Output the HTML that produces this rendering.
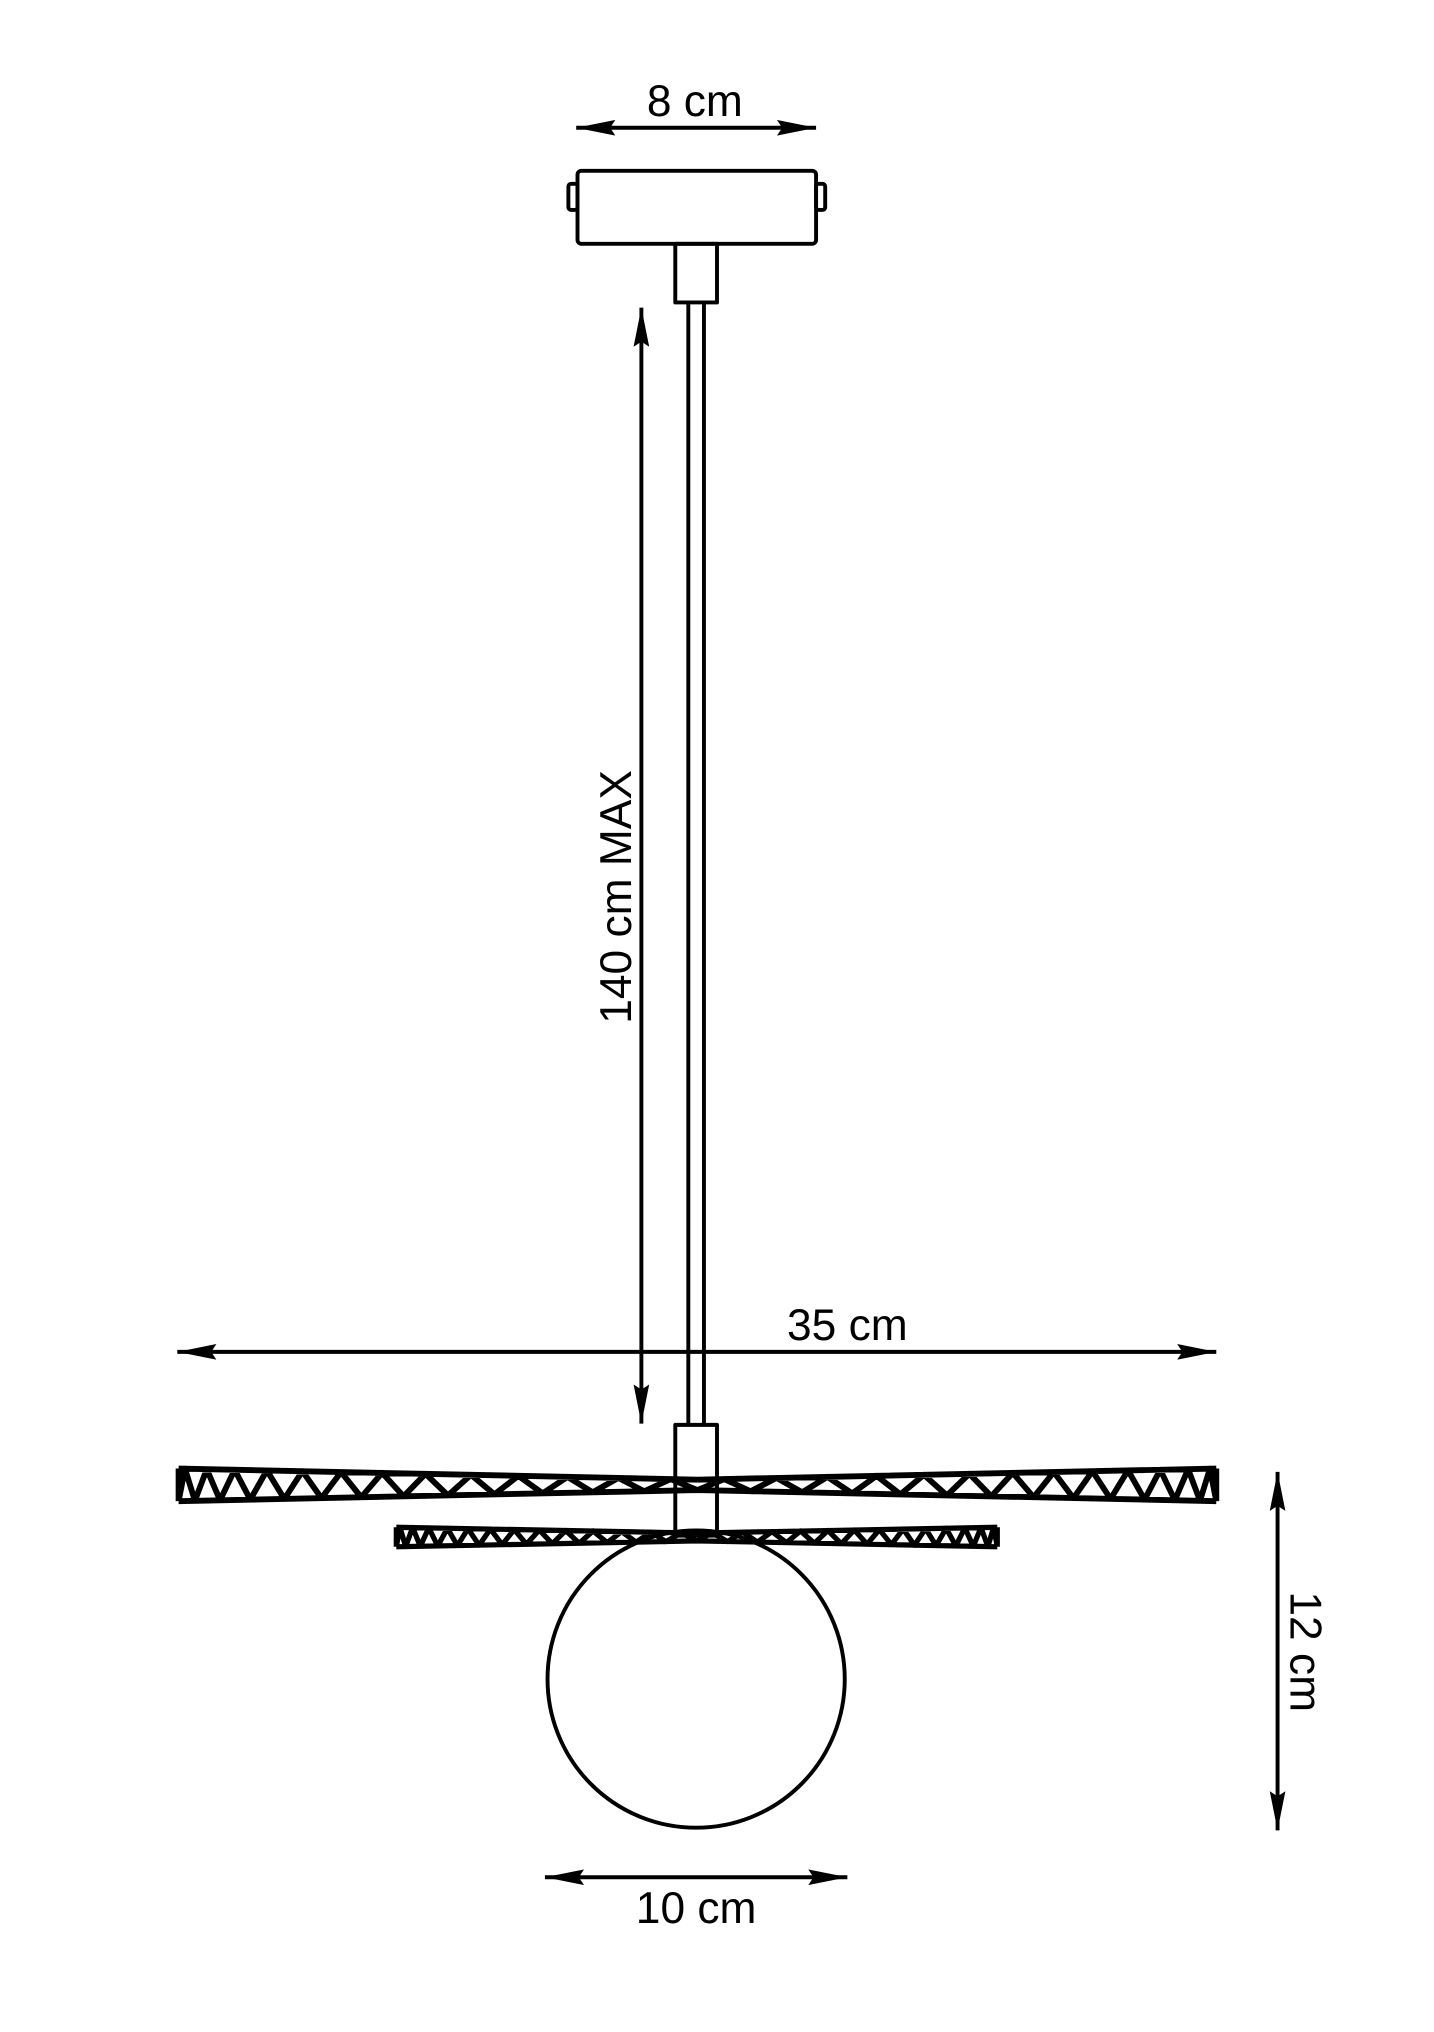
<!DOCTYPE html>
<html><head><meta charset="utf-8"><style>html,body{margin:0;padding:0;background:#fff}svg{display:block}</style></head>
<body>
<svg id="s" xmlns="http://www.w3.org/2000/svg" width="1434" height="2032" viewBox="0 0 1100 1558.7">
<defs>
<marker id="a" viewBox="0 0 30 12" refX="30" refY="6" markerWidth="30" markerHeight="12" markerUnits="userSpaceOnUse" orient="auto-start-reverse"><path d="M0,0 L30,6 L0,12 L4,6 Z" fill="#000"/></marker>
</defs>
<g stroke="#000" stroke-width="3" fill="none" stroke-linejoin="round">
<rect x="443" y="131" width="183" height="56" rx="3"/>
<rect x="436" y="141" width="7" height="20" rx="2"/>
<rect x="626" y="141" width="7" height="20" rx="2"/>
<rect x="518" y="187" width="32" height="45"/>
<line x1="528" y1="232" x2="528" y2="1093"/>
<line x1="540" y1="232" x2="540" y2="1093"/>
<rect x="518" y="1093" width="32" height="85"/>
<circle cx="534" cy="1288" r="114"/>
</g>
<g id="disks" stroke="#000" stroke-width="4" fill="none" stroke-linejoin="round"></g>
<g stroke="#000" stroke-width="3" fill="none">
<line x1="442" y1="98" x2="626" y2="98" marker-start="url(#a)" marker-end="url(#a)"/>
<line x1="492" y1="236" x2="492" y2="1092" marker-start="url(#a)" marker-end="url(#a)"/>
<line x1="136" y1="1037" x2="933" y2="1037" marker-start="url(#a)" marker-end="url(#a)"/>
<line x1="418" y1="1440" x2="650" y2="1440" marker-start="url(#a)" marker-end="url(#a)"/>
<line x1="980" y1="1129" x2="980" y2="1404" marker-start="url(#a)" marker-end="url(#a)"/>
</g>
<g font-family="'Liberation Sans', sans-serif" font-size="34" fill="#000" text-anchor="middle">
<text x="533" y="89">8 cm</text>
<text x="650" y="1028">35 cm</text>
<text x="534" y="1475">10 cm</text>
<text transform="translate(484,688) rotate(-90)">140 cm MAX</text>
<text transform="translate(990,1267) rotate(90)">12 cm</text>
</g>
<script>
(function(){
var g=document.getElementById('disks');var ns='http://www.w3.org/2000/svg';
function disk(x0,x1,yc,hEnd,hMid,n,sw){
 var cx=(x0+x1)/2, d='';
 [[x0,cx],[x1,cx]].forEach(function(p){
  var xa=p[0],xb=p[1];
  function top(x){var t=(x-xa)/(xb-xa);return yc-hEnd/2+ t*(hEnd-hMid)/2;}
  function bot(x){var t=(x-xa)/(xb-xa);return yc+hEnd/2- t*(hEnd-hMid)/2;}
  d+='M'+xa+','+top(xa)+' L'+xb+','+top(xb)+' M'+xa+','+bot(xa)+' L'+xb+','+bot(xb)+' M'+xa+','+top(xa)+' L'+xa+','+bot(xa);
  var pts=[];for(var i=0;i<=n;i++){var t=Math.pow(i/n,1.35);var x=xa+(xb-xa)*t;pts.push([x,i%2?top(x):bot(x)]);}
  d+=' M'+pts.map(function(q){return q[0].toFixed(1)+','+q[1].toFixed(1)}).join(' L');
 });
 var pa=document.createElementNS(ns,'path');pa.setAttribute('d',d);pa.setAttribute('stroke-width',sw);g.appendChild(pa);
}
disk(137,933,1139,25,8,26,4.5);
disk(304,765,1179,15,6,26,4);
})();
</script>
</svg>
</body></html>
